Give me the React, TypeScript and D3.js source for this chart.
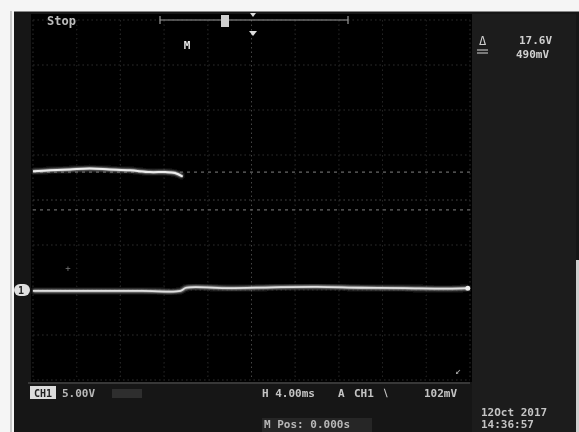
import React from "react";
import * as d3 from "d3";

// ---- data (time in ms, voltage in V) ----
const timeDomain: [number, number] = [-20, 20]; // 4 ms/div, 10 divs
const voltDomain: [number, number] = [-10, 30]; // 5 V/div, 8 divs
const xDivs = 10;
const yDivs = 8;

const ch1Time = [-20, -18.4, -16.6, -14.8, -13.0, -11.1, -9.3, -7.9, -7.0, -6.3];
const ch1Volt = [13.2, 13.3, 13.4, 13.5, 13.4, 13.3, 13.1, 13.1, 13.0, 12.6];

const ch2Time = [-20, -15, -10, -6.5, -6.0, -2, 2, 6, 10, 14, 18, 19.8];
const ch2Volt = [-0.1, -0.1, -0.1, -0.1, 0.25, 0.2, 0.3, 0.35, 0.25, 0.2, 0.15, 0.2];

const cursorVolts = [13.1, 8.9];

const headerLabel = "Stop";
const cursorLabels = ["17.6V", "490mV"];
const chLabel = "CH1";
const chScale = "5.00V";
const timebaseParts = ["H 4.00ms", "A", "CH1", "\u29F5", "102mV"];
const posLabel = "M Pos: 0.000s";
const dateLabel = "12Oct 2017";
const clockLabel = "14:36:57";

export default function App() {
  const W = 579;
  const H = 432;
  const plot = { x0: 33, x1: 470, y0: 20, y1: 380 };
  const x = d3.scaleLinear().domain(timeDomain).range([plot.x0, plot.x1]);
  const y = d3.scaleLinear().domain(voltDomain).range([plot.y1, plot.y0]);

  const line = d3
    .line<[number, number]>()
    .x((d) => x(d[0]))
    .y((d) => y(d[1]))
    .curve(d3.curveCatmullRom);

  const ch1 = ch1Time.map((t, i) => [t, ch1Volt[i]] as [number, number]);
  const ch2 = ch2Time.map((t, i) => [t, ch2Volt[i]] as [number, number]);

  const xt = d3.range(xDivs + 1).map((i) => timeDomain[0] + (i * (timeDomain[1] - timeDomain[0])) / xDivs);
  const yt = d3.range(yDivs + 1).map((i) => voltDomain[0] + (i * (voltDomain[1] - voltDomain[0])) / yDivs);

  const mono = "'DejaVu Sans Mono', monospace";
  const tbX = [262, 338, 354, 384, 424];

  return (
    <svg
      width={W}
      height={H}
      style={{ position: "fixed", left: 0, top: 0, display: "block" }}
    >
      <defs>
        <filter id="blur" x="-5%" y="-5%" width="110%" height="110%">
          <feGaussianBlur stdDeviation="0.75" />
        </filter>
        <filter id="glow" x="-5%" y="-50%" width="110%" height="200%">
          <feGaussianBlur stdDeviation="1.2" />
        </filter>
      </defs>
      {/* paper margins */}
      <rect x={0} y={0} width={W} height={H} fill="#f5f5f5" />
      <rect x={14} y={11} width={W - 14} height={H - 11} fill="#161616" />
      <line x1={11} y1={11} x2={11} y2={H} stroke="#b8b8b8" strokeWidth={1.5} />
      <line x1={14} y1={11.5} x2={W} y2={11.5} stroke="#888" strokeWidth={1} />
      <rect x={576} y={260} width={3} height={172} fill="#cfcfcf" />

      <g filter="url(#blur)">
        {/* plot area */}
        <rect x={plot.x0 - 2} y={14} width={plot.x1 - plot.x0 + 4} height={plot.y1 - 14 + 2} fill="#040404" />
        {/* right menu panel */}
        <rect x={472} y={14} width={104} height={H - 14} fill="#1b1b1b" />
        {[490, 522, 556].map((v) => (
          <line key={v} x1={v} y1={20} x2={v} y2={400} stroke="#242424" strokeWidth={1} />
        ))}

        {/* grid */}
        {xt.map((t) => (
          <line
            key={"gx" + t}
            x1={x(t)}
            x2={x(t)}
            y1={plot.y0}
            y2={plot.y1}
            stroke={t === 0 ? "#444" : "#262626"}
            strokeWidth={1}
            strokeDasharray="1.5,3"
          />
        ))}
        {yt.map((v) => (
          <line
            key={"gy" + v}
            x1={plot.x0}
            x2={plot.x1}
            y1={y(v)}
            y2={y(v)}
            stroke={v === 10 ? "#444" : "#262626"}
            strokeWidth={1}
            strokeDasharray="1.5,3"
          />
        ))}

        {/* cursors */}
        {cursorVolts.map((v) => (
          <line
            key={"c" + v}
            x1={plot.x0}
            x2={plot.x1}
            y1={y(v)}
            y2={y(v)}
            stroke="#666"
            strokeWidth={1.3}
            strokeDasharray="3,4"
          />
        ))}

        {/* traces */}
        <path d={line(ch2) || ""} fill="none" stroke="#a0a0a0" strokeWidth={3.5} filter="url(#glow)" />
        <path d={line(ch2) || ""} fill="none" stroke="#e0e0e0" strokeWidth={1.8} />
        <path d={line(ch1) || ""} fill="none" stroke="#a0a0a0" strokeWidth={3.5} filter="url(#glow)" />
        <path d={line(ch1) || ""} fill="none" stroke="#ececec" strokeWidth={2} />
        <circle cx={x(ch2Time[ch2Time.length - 1])} cy={y(ch2Volt[ch2Volt.length - 1])} r={2.5} fill="#eee" />

        {/* ground marker */}
        <rect x={14} y={y(0) - 6} width={16} height={12} rx={6} fill="#e0e0e0" />
        <text x={21} y={y(0) + 4} fontFamily={mono} fontSize={10} fontWeight="bold" fill="#222" textAnchor="middle">1</text>
        <text x={68} y={271} fontFamily={mono} fontSize={9} fill="#777" textAnchor="middle">+</text>
        <text x={458} y={374} fontFamily={mono} fontSize={10} fill="#aaa" textAnchor="middle">{"\u2199"}</text>

        {/* header */}
        <text x={47} y={25} fontFamily={mono} fontSize={12} fontWeight="bold" fill="#bdbdbd">{headerLabel}</text>
        <line x1={160} y1={20} x2={348} y2={20} stroke="#9a9a9a" strokeWidth={1.2} />
        <line x1={160} y1={16} x2={160} y2={24} stroke="#9a9a9a" strokeWidth={1.2} />
        <line x1={348} y1={16} x2={348} y2={24} stroke="#9a9a9a" strokeWidth={1.2} />
        <rect x={221} y={15} width={8} height={12} fill="#cfcfcf" />
        <path d="M250,13 L256,13 L253,17 Z" fill="#ddd" />
        <path d="M249,31 L257,31 L253,36 Z" fill="#ddd" />
        <text x={187} y={49} fontFamily={mono} fontSize={11} fontWeight="bold" fill="#e8e8e8" textAnchor="middle">M</text>

        {/* right panel readouts */}
        <text x={479} y={45} fontFamily={mono} fontSize={12} fill="#cfcfcf">{"\u0394"}</text>
        <line x1={477} y1={50} x2={488} y2={50} stroke="#bbb" strokeWidth={1.2} />
        <line x1={477} y1={53} x2={488} y2={53} stroke="#bbb" strokeWidth={1.2} />
        <text x={519} y={44} fontFamily={mono} fontSize={11} fontWeight="bold" fill="#d0d0d0">{cursorLabels[0]}</text>
        <text x={516} y={58} fontFamily={mono} fontSize={11} fontWeight="bold" fill="#d0d0d0">{cursorLabels[1]}</text>

        {/* bottom bar */}
        <line x1={28} y1={383} x2={470} y2={383} stroke="#5a5a5a" strokeWidth={1.2} />
        <rect x={30} y={386} width={26} height={13} fill="#dcdcdc" />
        <text x={43} y={397} fontFamily={mono} fontSize={10} fontWeight="bold" fill="#222" textAnchor="middle">{chLabel}</text>
        <text x={62} y={397} fontFamily={mono} fontSize={11} fontWeight="bold" fill="#b8b8b8">{chScale}</text>
        <rect x={112} y={389} width={30} height={9} fill="#2e2e2e" />
        {timebaseParts.map((s, i) => (
          <text key={"tb" + i} x={tbX[i]} y={397} fontFamily={mono} fontSize={11} fontWeight="bold" fill="#c4c4c4">{s}</text>
        ))}
        <rect x={262} y={418} width={110} height={14} fill="#262626" />
        <text x={264} y={428} fontFamily={mono} fontSize={11} fontWeight="bold" fill="#b8b8b8">{posLabel}</text>
        <text x={481} y={416} fontFamily={mono} fontSize={11} fontWeight="bold" fill="#c4c4c4">{dateLabel}</text>
        <text x={481} y={428} fontFamily={mono} fontSize={11} fontWeight="bold" fill="#c4c4c4">{clockLabel}</text>
      </g>
    </svg>
  );
}
